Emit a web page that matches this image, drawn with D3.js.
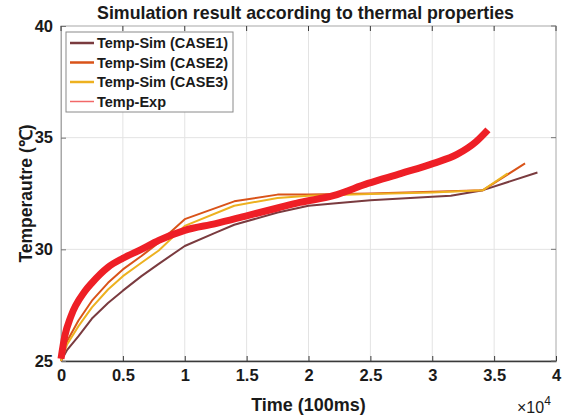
<!DOCTYPE html>
<html>
<head>
<meta charset="utf-8">
<script src="https://cdn.jsdelivr.net/npm/d3@7"></script>
<style>
  body { margin: 0; background: #fff; }
  text { font-family: "Liberation Sans", Arial, sans-serif; font-weight: bold; fill: #1a1a1a; }
</style>
</head>
<body>
<div class="chart"></div>
<script>
// values (time in 100ms, temperature in degC)
var case1Time = [0, 500, 1400, 2500, 3800, 5000, 6500, 7900, 10000, 12500, 14000, 17500, 20000, 22000, 25000, 30000, 31500, 34100, 38500];
var case1Temp = [25, 25.5, 26.1, 26.9, 27.6, 28.15, 28.8, 29.35, 30.15, 30.75, 31.1, 31.65, 31.95, 32.05, 32.2, 32.35, 32.4, 32.65, 33.44];

var case2Time = [0, 500, 1400, 2500, 3800, 5000, 6500, 7900, 10000, 14000, 17500, 20000, 25000, 30000, 34100, 37500];
var case2Temp = [25, 25.9, 26.8, 27.7, 28.5, 29.1, 29.7, 30.3, 31.35, 32.15, 32.45, 32.45, 32.5, 32.58, 32.65, 33.85];

var case3Time = [0, 500, 1400, 2500, 3800, 5000, 6500, 7900, 10000, 14000, 17500, 20000, 25000, 30000, 34100, 36100];
var case3Temp = [25, 25.75, 26.55, 27.4, 28.2, 28.8, 29.4, 29.95, 31.05, 31.95, 32.3, 32.4, 32.48, 32.55, 32.65, 33.4];

var expTime = [0, 300, 800, 1900, 2500, 3800, 5000, 6500, 7900, 10000, 12500, 15000, 17500, 19300, 22000, 24800, 27500, 30100, 32000, 33500, 34500];
var expTemp = [25.1, 26.1, 27.0, 28.1, 28.5, 29.2, 29.6, 30.0, 30.4, 30.85, 31.15, 31.5, 31.85, 32.1, 32.4, 32.95, 33.4, 33.85, 34.25, 34.8, 35.35];

var xTicks = [0, 5000, 10000, 15000, 20000, 25000, 30000, 35000, 40000];
var xTickLabels = ["0", "0.5", "1", "1.5", "2", "2.5", "3", "3.5", "4"];
var yTicks = [25, 30, 35, 40];

var seriesNames = ["Temp-Sim (CASE1)", "Temp-Sim (CASE2)", "Temp-Sim (CASE3)", "Temp-Exp"];
var seriesColors = ["#7a3b3f", "#d95319", "#edb120", "#ee1f26"];

var svgWidth = 565;
var svgHeight = 419;
var margin = { top: 26, right: 9, bottom: 58, left: 61 };
var width = svgWidth - margin.left - margin.right;
var height = svgHeight - margin.top - margin.bottom;

var svg = d3.select(".chart")
    .append("svg")
    .attr("width", svgWidth)
    .attr("height", svgHeight);

var chartGroup = svg.append("g")
    .attr("transform", `translate(${margin.left}, ${margin.top})`);

var xScale = d3.scaleLinear().domain([0, 40000]).range([0, width]);
var yScale = d3.scaleLinear().domain([25, 40]).range([height, 0]);

// grid
chartGroup.append("g")
    .selectAll("line")
    .data(xTicks.slice(1, -1))
    .enter().append("line")
    .attr("x1", d => xScale(d)).attr("x2", d => xScale(d))
    .attr("y1", 0).attr("y2", height)
    .attr("stroke", "#e3e3e3");

chartGroup.append("g")
    .selectAll("line")
    .data(yTicks.slice(1, -1))
    .enter().append("line")
    .attr("x1", 0).attr("x2", width)
    .attr("y1", d => yScale(d)).attr("y2", d => yScale(d))
    .attr("stroke", "#e3e3e3");

// frame
chartGroup.append("rect")
    .attr("width", width).attr("height", height)
    .attr("fill", "none").attr("stroke", "#a8a8a8");

// axes
var bottomAxis = d3.axisBottom(xScale).tickValues(xTicks)
    .tickFormat((d, i) => xTickLabels[i]).tickSizeInner(-5).tickSizeOuter(0).tickPadding(8);
var leftAxis = d3.axisLeft(yScale).tickValues(yTicks).tickSizeInner(-5).tickSizeOuter(0).tickPadding(8);

var xg = chartGroup.append("g")
    .attr("transform", `translate(0, ${height})`)
    .call(bottomAxis);
xg.select(".domain").attr("stroke", "#3a3a3a").attr("stroke-width", 1.5);
xg.selectAll(".tick line").attr("stroke", "#3a3a3a");

var yg = chartGroup.append("g").call(leftAxis);
yg.select(".domain").attr("stroke", "#a8a8a8");
yg.selectAll(".tick line").attr("stroke", "#777");

// top & right ticks
chartGroup.append("g").selectAll("line")
    .data(xTicks).enter().append("line")
    .attr("x1", d => xScale(d)).attr("x2", d => xScale(d))
    .attr("y1", 0).attr("y2", 5).attr("stroke", "#3a3a3a");
chartGroup.append("g").selectAll("line")
    .data(yTicks).enter().append("line")
    .attr("x1", width).attr("x2", width - 5)
    .attr("y1", d => yScale(d)).attr("y2", d => yScale(d)).attr("stroke", "#777");

svg.selectAll(".tick text")
    .style("font-family", "'Liberation Sans', Arial, sans-serif")
    .style("font-weight", "bold")
    .style("font-size", "16.5px")
    .attr("fill", "#1a1a1a");

// lines
var simLine = d3.line()
    .x(d => xScale(d[0]))
    .y(d => yScale(d[1]));
var expLine = d3.line()
    .curve(d3.curveMonotoneX)
    .x(d => xScale(d[0]))
    .y(d => yScale(d[1]));

var seriesData = [
    d3.zip(case1Time, case1Temp),
    d3.zip(case2Time, case2Temp),
    d3.zip(case3Time, case3Temp),
    d3.zip(expTime, expTemp)
];
var seriesWidths = [2, 2, 2, 7];

var plot = chartGroup.append("g");
seriesData.forEach(function(data, i) {
    plot.append("path")
        .datum(data)
        .attr("d", i == 3 ? expLine : simLine)
        .attr("fill", "none")
        .attr("stroke", seriesColors[i])
        .attr("stroke-width", seriesWidths[i])
        .attr("stroke-linejoin", "round");
});

// legend
var legend = chartGroup.append("g").attr("transform", "translate(5, 6)");
legend.append("rect")
    .attr("width", 167).attr("height", 80)
    .attr("fill", "#fff").attr("stroke", "#8a8a8a");
var legendColors = ["#7a3b3f", "#d95319", "#edb120", "#f26868"];
var legendWidths = [2.5, 2.5, 2.5, 1.5];
seriesNames.forEach(function(name, i) {
    var y = 11 + i * 19.5;
    legend.append("line")
        .attr("x1", 4).attr("x2", 28)
        .attr("y1", y).attr("y2", y)
        .attr("stroke", legendColors[i])
        .attr("stroke-width", legendWidths[i]);
    legend.append("text")
        .attr("x", 31).attr("y", y + 5)
        .style("font-size", "14.5px")
        .text(name);
});

// title and labels
svg.append("text")
    .attr("x", margin.left + width / 2 - 3).attr("y", 19)
    .attr("text-anchor", "middle")
    .style("font-size", "17.8px")
    .text("Simulation result according to thermal properties");

svg.append("text")
    .attr("x", margin.left + width / 2).attr("y", 411)
    .attr("text-anchor", "middle")
    .style("font-size", "18px")
    .text("Time (100ms)");

svg.append("text")
    .attr("transform", `translate(32, ${margin.top + height / 2}) rotate(-90)`)
    .attr("text-anchor", "middle")
    .style("font-size", "17.5px")
    .text("Temperautre (℃)");

var mult = svg.append("text")
    .attr("x", 517).attr("y", 413)
    .style("font-size", "16px")
    .style("font-weight", "normal");
mult.append("tspan").text("×10");
mult.append("tspan").attr("dy", -8).style("font-size", "12px").text("4");
</script>
</body>
</html>
